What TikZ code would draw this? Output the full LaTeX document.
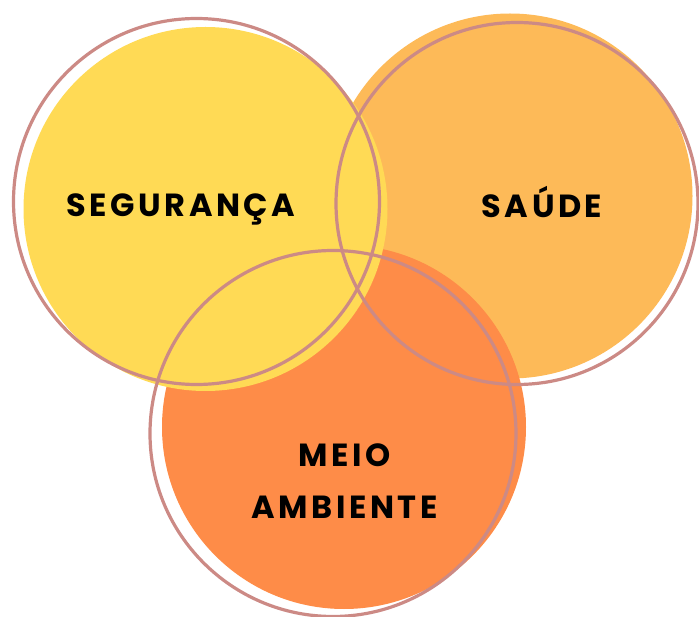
\documentclass[tikz,border=0pt]{standalone}
\usepackage{fontspec}
\newfontfamily\labfont{Poppins}[LetterSpace=11]
\definecolor{segcol}{HTML}{FFDA55}
\definecolor{saucol}{HTML}{FDBA58}
\definecolor{meicol}{HTML}{FE8C48}
\definecolor{ringcol}{HTML}{CC8A85}
\tikzset{
  ring/.style={draw=ringcol, line width=3.2pt},
  lbl/.style={font=\labfont\bfseries\fontsize{32}{38}\selectfont, text=black, anchor=base, inner sep=0pt}
}
\begin{document}
\begin{tikzpicture}[x=1pt,y=-1pt]
\useasboundingbox (0,0) rectangle (699,617);
% fills (back to front)
\fill[saucol] (510,196) circle[radius=182.5];
\fill[meicol] (344,427) circle[radius=182];
\fill[segcol] (205.5,209) circle[radius=182];
% outlines
\draw[ring] (196.5,201.5) circle[radius=183];
\draw[ring] (517,203.5) circle[radius=181];
\draw[ring] (333,433.5) circle[radius=183];
% labels
\node[lbl] (seg) at (181,217) {SEGURANÇA};
\node[lbl] (sau) at (542,218) {SAÚDE};
\node[lbl] (mei) at (344.5,467) {MEIO};
\node[lbl] (amb) at (344.5,518) {AMBIENTE};
\end{tikzpicture}
\end{document}
